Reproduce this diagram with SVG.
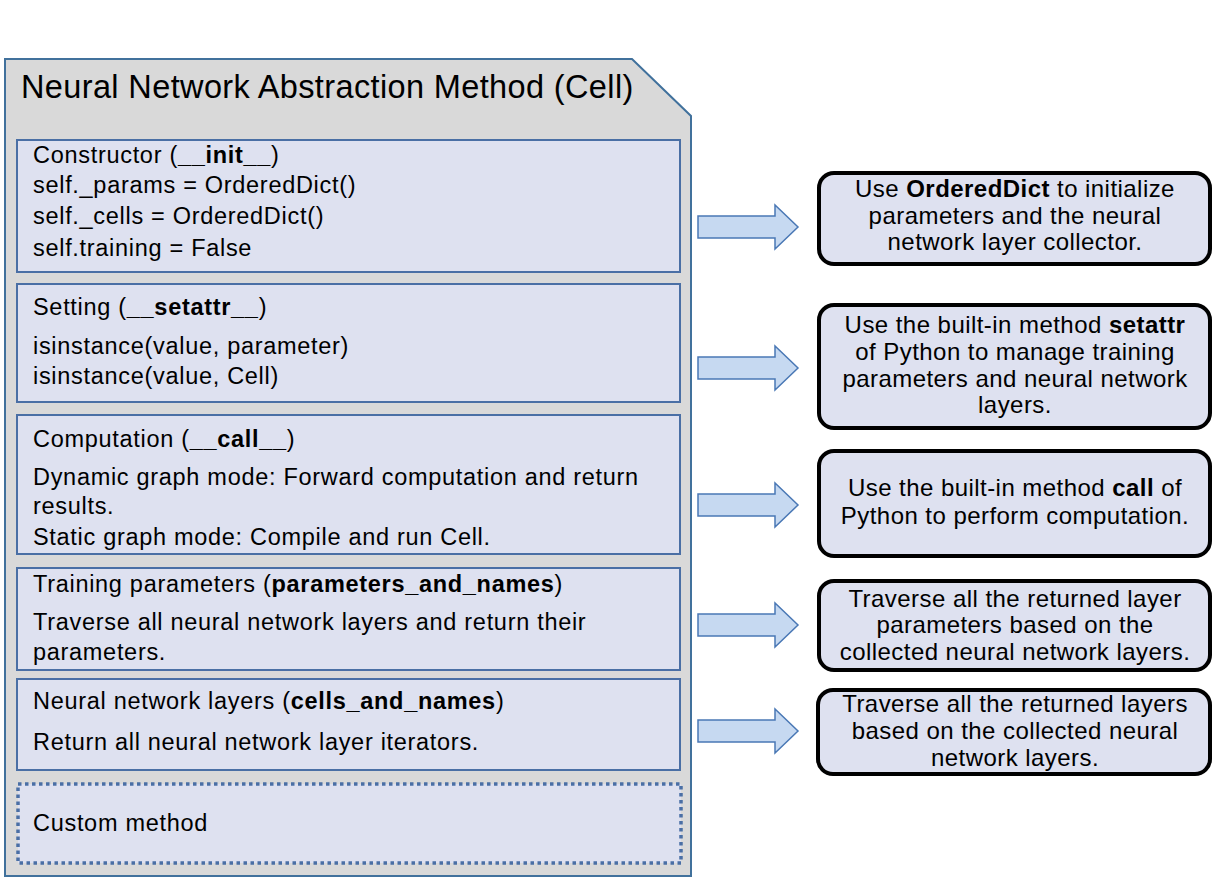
<svg xmlns="http://www.w3.org/2000/svg" width="1213" height="877" viewBox="0 0 1213 877">
<style>
text{font-family:"Liberation Sans",Arial,sans-serif;fill:#000}
.t{font-size:23.5px;letter-spacing:0.7px}
.r{font-size:24px;letter-spacing:0.45px;text-anchor:middle}
.b{font-weight:bold}
.inner{fill:#dee1f0;stroke:#4a6fa5;stroke-width:2}
.desc{fill:#dee1f0;stroke:#000;stroke-width:4}
.arr{fill:#c6d9f1;stroke:#4a78b5;stroke-width:1.5}
</style>
<defs>
<path id="arrow" d="M0,-11 L77,-11 L77,-22 L100,0 L77,22 L77,11 L0,11 Z"/>
</defs>
<rect width="1213" height="877" fill="#fff"/>
<g id="frame">
<path d="M5,59 L632,59 L691,116 L691,876 L5,876 Z" fill="#d9d9d9" stroke="#41719c" stroke-width="2"/>
<text x="21" y="98" style="font-size:32.5px;letter-spacing:0.37px">Neural Network Abstraction Method (Cell)</text>
</g>
<g id="init">
<rect class="inner" x="17" y="140" width="663" height="132"/>
<text class="t" x="33" y="163">Constructor (<tspan class="b">__init__</tspan>)</text>
<text class="t" x="33" y="193">self._params = OrderedDict()</text>
<text class="t" x="33" y="224">self._cells = OrderedDict()</text>
<text class="t" x="33" y="256">self.training = False</text>
</g>
<g id="setattr">
<rect class="inner" x="17" y="284" width="663" height="118"/>
<text class="t" x="33" y="315">Setting (<tspan class="b">__setattr__</tspan>)</text>
<text class="t" x="33" y="354">isinstance(value, parameter)</text>
<text class="t" x="33" y="384">isinstance(value, Cell)</text>
</g>
<g id="call">
<rect class="inner" x="17" y="415" width="663" height="139"/>
<text class="t" x="33" y="447">Computation (<tspan class="b">__call__</tspan>)</text>
<text class="t" x="33" y="485">Dynamic graph mode: Forward computation and return</text>
<text class="t" x="33" y="514">results.</text>
<text class="t" x="33" y="545">Static graph mode: Compile and run Cell.</text>
</g>
<g id="params">
<rect class="inner" x="17" y="568" width="663" height="102"/>
<text class="t" x="33" y="592">Training parameters (<tspan class="b">parameters_and_names</tspan>)</text>
<text class="t" x="33" y="630">Traverse all neural network layers and return their</text>
<text class="t" x="33" y="660">parameters.</text>
</g>
<g id="cells">
<rect class="inner" x="17" y="679" width="663" height="91"/>
<text class="t" x="33" y="709">Neural network layers (<tspan class="b">cells_and_names</tspan>)</text>
<text class="t" x="33" y="750">Return all neural network layer iterators.</text>
</g>
<g id="custom">
<rect x="18" y="784" width="663" height="79" fill="#dee1f0" stroke="#4a6fa5" stroke-width="3.5" stroke-dasharray="3.5,3.5"/>
<text class="t" x="33" y="831">Custom method</text>
</g>
<g id="connectors">
<use href="#arrow" class="arr" transform="translate(698,227)"/>
<use href="#arrow" class="arr" transform="translate(698,368)"/>
<use href="#arrow" class="arr" transform="translate(698,505)"/>
<use href="#arrow" class="arr" transform="translate(698,625)"/>
<use href="#arrow" class="arr" transform="translate(698,731)"/>
</g>
<g id="descInit">
<rect class="desc" x="819" y="173" width="391" height="91" rx="15"/>
<text class="r" x="1015" y="197">Use <tspan class="b">OrderedDict</tspan> to initialize</text>
<text class="r" x="1015" y="224">parameters and the neural</text>
<text class="r" x="1015" y="250">network layer collector.</text>
</g>
<g id="descSetattr">
<rect class="desc" x="819" y="305" width="391" height="123" rx="15"/>
<text class="r" x="1015" y="333">Use the built-in method <tspan class="b">setattr</tspan></text>
<text class="r" x="1015" y="360">of Python to manage training</text>
<text class="r" x="1015" y="387">parameters and neural network</text>
<text class="r" x="1015" y="413">layers.</text>
</g>
<g id="descCall">
<rect class="desc" x="819" y="451" width="391" height="105" rx="15"/>
<text class="r" x="1015" y="496">Use the built-in method <tspan class="b">call</tspan> of</text>
<text class="r" x="1015" y="524">Python to perform computation.</text>
</g>
<g id="descParams">
<rect class="desc" x="819" y="581" width="391" height="89" rx="15"/>
<text class="r" x="1015" y="607">Traverse all the returned layer</text>
<text class="r" x="1015" y="633">parameters based on the</text>
<text class="r" x="1015" y="660">collected neural network layers.</text>
</g>
<g id="descCells">
<rect class="desc" x="818" y="690" width="392" height="84" rx="15"/>
<text class="r" x="1015" y="712">Traverse all the returned layers</text>
<text class="r" x="1015" y="739">based on the collected neural</text>
<text class="r" x="1015" y="766">network layers.</text>
</g>
</svg>
